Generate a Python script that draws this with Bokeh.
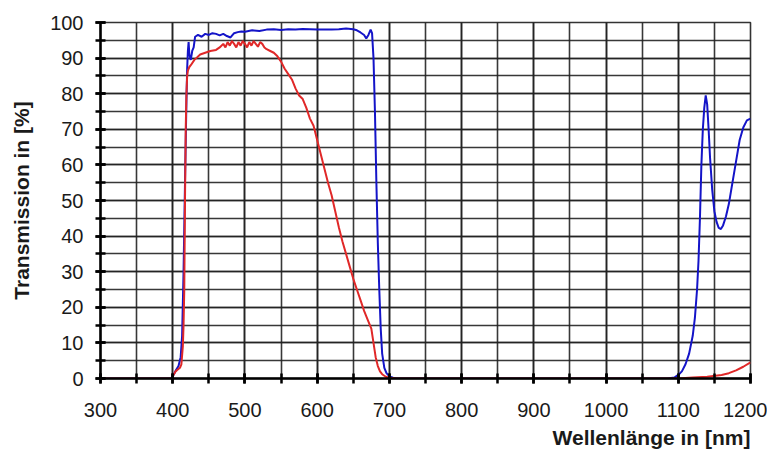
from bokeh.plotting import figure
from bokeh.models import Range1d, SingleIntervalTicker, Title
from bokeh.embed import file_html
from bokeh.resources import INLINE

# ---- data ----
blue_nm = [300, 350, 398, 401, 405, 408, 411, 413, 415, 417, 419, 420, 421, 422, 423, 425, 427,
           429, 431, 435, 440, 445, 450, 455, 460, 465, 470, 475, 480, 485, 490, 495, 500, 510,
           520, 530, 540, 550, 560, 570, 580, 590, 600, 610, 620, 630, 640, 650, 655, 660, 665,
           668, 671, 674, 676, 678, 680, 682, 684, 686, 688, 690, 693, 696, 700, 705, 710, 800,
           900, 1000, 1085, 1095, 1100, 1105, 1110, 1115, 1120, 1123, 1126, 1128, 1130, 1132,
           1134, 1136, 1138, 1140, 1142, 1144, 1147, 1150, 1153, 1156, 1159, 1162, 1166, 1170,
           1175, 1180, 1185, 1190, 1195, 1200]
blue_t = [0, 0, 0, 1, 2.5, 3.5, 6, 12, 30, 55, 78, 87, 92, 94.5, 91, 89.5, 92,
          93, 96, 96.5, 96, 96.8, 96.5, 97, 96.8, 96.4, 96.8, 96.2, 95.8, 97, 97.3, 97.5, 97.4, 97.8,
          97.6, 98, 98.1, 97.9, 98.1, 98, 98.2, 98.1, 98, 98, 98, 98.1, 98.3, 98.1, 97.8, 97.2, 96.5,
          95.5, 96.5, 98, 97, 90, 75, 55, 38, 25, 14, 7, 3, 1.5, 0.6, 0.2, 0, 0,
          0, 0, 0, 0.3, 1, 2, 4, 7, 12, 17, 25, 33, 45, 60,
          70, 76, 79.5, 77, 70, 62, 53, 47, 44, 42.3, 42, 43, 45.5, 49,
          55, 61, 67, 70.5, 72.5, 73]

red_nm = [300, 398, 401, 404, 407, 410, 412, 414, 415, 416, 417, 418, 419, 420, 421, 423, 425,
          430, 438, 445, 452, 460, 465, 470, 473, 476, 479, 482, 485, 488, 491, 494, 497, 500,
          503, 506, 509, 512, 515, 518, 521, 524, 527, 530, 535, 540, 545, 550, 555, 560, 565,
          570, 575, 580, 585, 590, 595, 600, 605, 610, 615, 620, 625, 630, 635, 640, 645, 650,
          655, 660, 665, 670, 675, 678, 681, 684, 687, 690, 695, 700, 710, 1100, 1120, 1140,
          1160, 1170, 1180, 1190, 1200]
red_t = [0, 0, 1, 2, 2.5, 3, 4, 9, 15, 25, 50, 70, 80, 85, 86.5, 87.5, 88,
         89.5, 91, 91.5, 92, 92.3, 93, 94, 93, 94.5, 93.5, 94.8, 94, 93, 94.5, 93.5, 94.8, 94,
         93, 94.5, 93.5, 94.8, 94, 93.2, 94.5, 94, 93, 92.5, 92, 91.5, 90.5, 89, 87, 85.5, 84,
         81.5, 79.5, 78.5, 76, 73, 71, 67, 63, 59, 55, 51.5, 47, 42.5, 38.5, 35, 31.5, 28,
         25, 22, 19, 16.5, 14, 10, 6, 3.5, 2, 1.2, 0.5, 0.2, 0, 0, 0.3, 0.5,
         1, 1.5, 2.3, 3.3, 4.5]

x_label = "Wellenlänge in [nm]"
y_label = "Transmission in [%]"

FONT = "Liberation Sans"
TXT = "#1a1a1a"

p = figure(width=767, height=457, output_backend="svg", toolbar_location=None,
           x_range=Range1d(300, 1200), y_range=Range1d(0, 100),
           min_border_left=100, min_border_right=17, min_border_top=22, min_border_bottom=79,
           background_fill_color="white", border_fill_color="white")

p.xaxis.ticker = SingleIntervalTicker(interval=100, num_minor_ticks=2)
p.yaxis.ticker = SingleIntervalTicker(interval=10, num_minor_ticks=2)

for g in (p.xgrid, p.ygrid):
    g.grid_line_color = "#222222"
    g.grid_line_width = 1.6
    g.grid_line_alpha = 0.9
    g.minor_grid_line_color = "#222222"
    g.minor_grid_line_width = 1.6
    g.minor_grid_line_alpha = 0.9

p.outline_line_color = "#333333"
p.outline_line_width = 1.6

for ax in (p.xaxis, p.yaxis):
    ax.axis_line_color = "black"
    ax.axis_line_width = 2.5
    ax.major_tick_line_color = "black"
    ax.major_tick_line_width = 2.5
    ax.minor_tick_line_color = "black"
    ax.minor_tick_line_width = 2.5
    ax.major_tick_in = 5
    ax.major_tick_out = 5
    ax.minor_tick_in = 5
    ax.minor_tick_out = 5
    ax.major_label_text_font = FONT
    ax.major_label_text_font_size = "20px"
    ax.major_label_text_color = TXT

p.xaxis.major_label_standoff = 19
p.yaxis.major_label_standoff = 12

p.yaxis.axis_label = y_label
p.yaxis.axis_label_text_font = FONT
p.yaxis.axis_label_text_font_size = "21px"
p.yaxis.axis_label_text_font_style = "bold"
p.yaxis.axis_label_text_color = TXT
p.yaxis.axis_label_standoff = 14

p.line(blue_nm, blue_t, line_color="#1414c8", line_width=2)
p.line(red_nm, red_t, line_color="#e02828", line_width=2)

p.add_layout(Title(text=x_label, align="right", text_font=FONT, text_font_size="21px",
                   text_font_style="bold", text_color=TXT, standoff=8), "below")

open("out.html", "w").write(file_html(p, INLINE))
